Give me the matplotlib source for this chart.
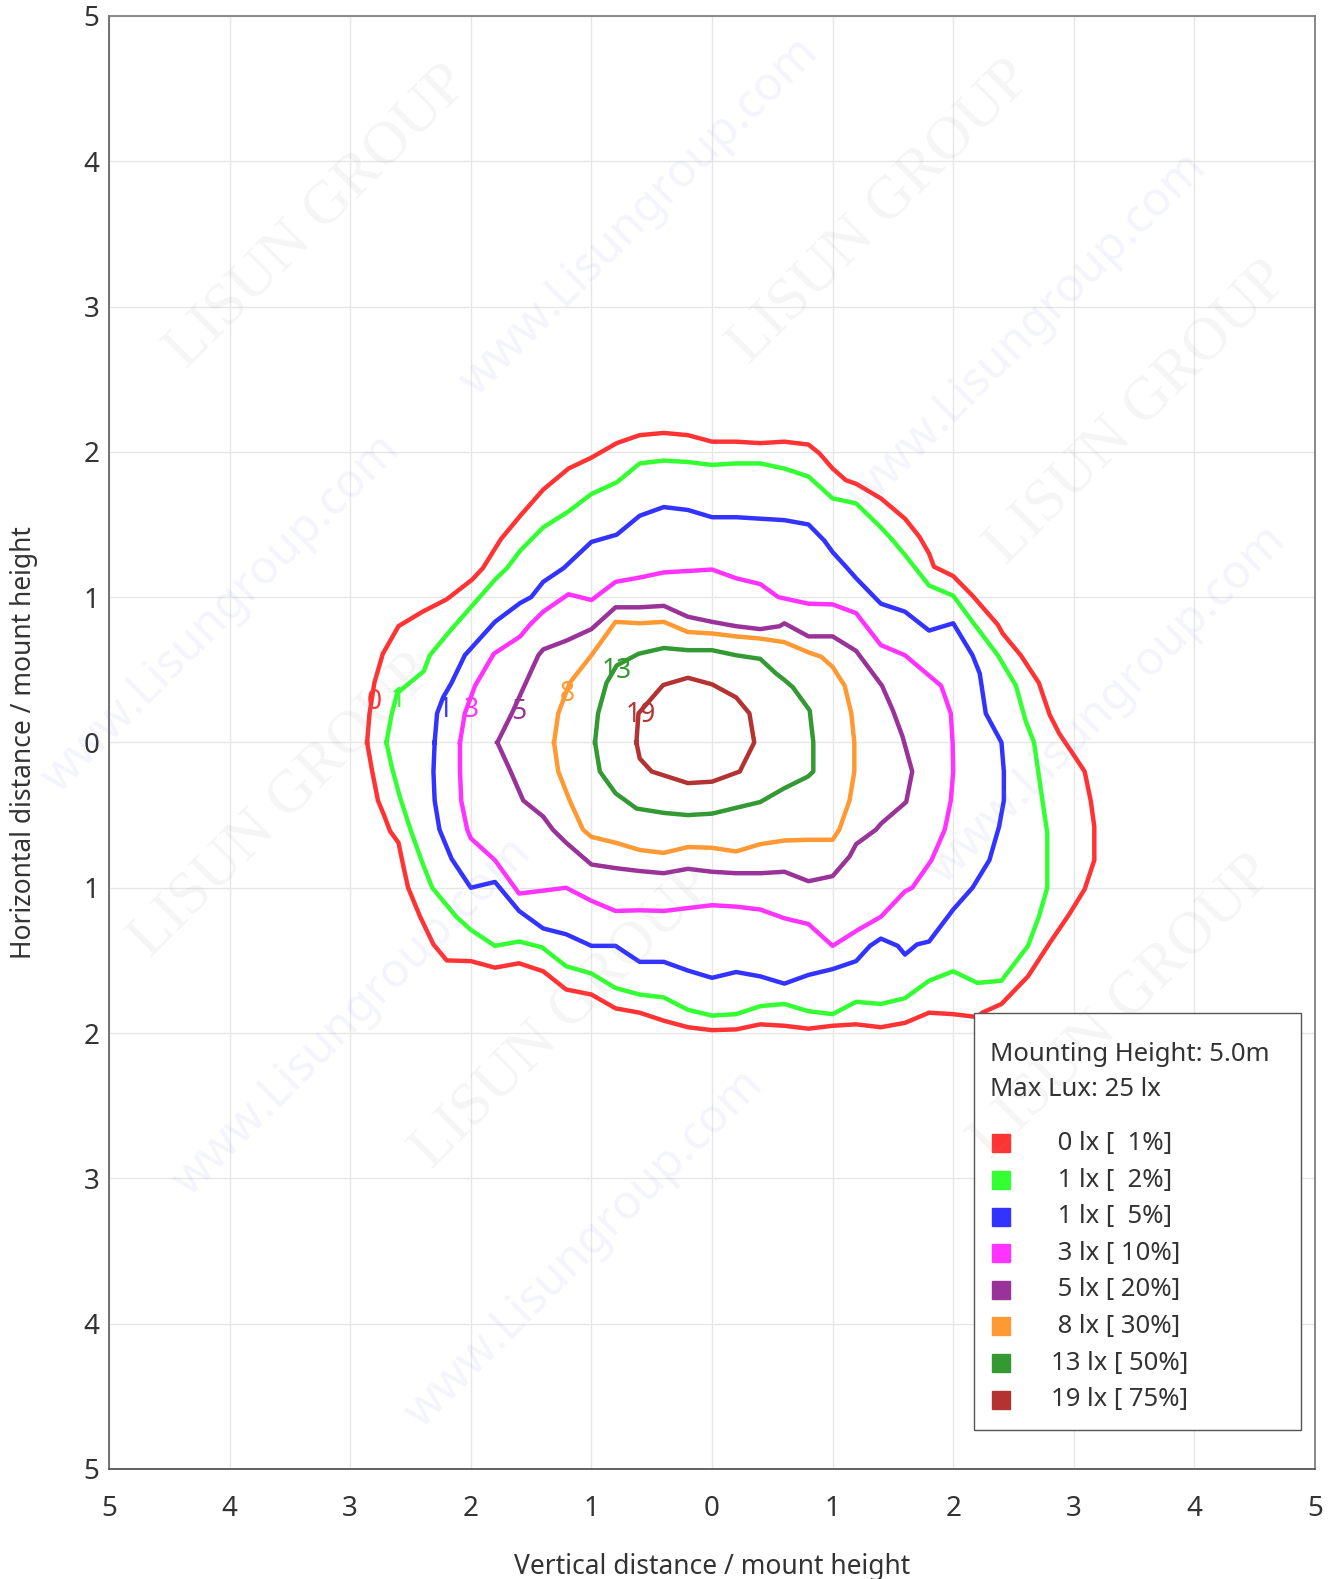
import matplotlib
matplotlib.use("Agg")
import matplotlib.pyplot as plt
from matplotlib.patches import Rectangle
from matplotlib.ticker import FuncFormatter, MultipleLocator

plt.rcParams["font.family"] = ["Noto Sans", "DejaVu Sans"]

# isolux levels
lux_levels = [0, 1, 1, 3, 5, 8, 13, 19]
pct_levels = [1, 2, 5, 10, 20, 30, 50, 75]
line_colors = ["#ff3333", "#33ff33", "#3333ff", "#ff33ff",
               "#993399", "#ff9933", "#339933", "#b33333"]

# contour polylines (distance / mount height)
p1_x = [-2.86, -2.84, -2.80, -2.73, -2.60, -2.40, -2.20, -1.99, -1.90, -1.75, -1.59, -1.40,
        -1.19, -1.0, -0.79, -0.60, -0.40, -0.20, 0.0, 0.2, 0.4, 0.6, 0.8, 0.89, 1.0, 1.11,
        1.195, 1.40, 1.6, 1.72, 1.80, 1.84, 2.0, 2.16, 2.37, 2.41, 2.56, 2.71, 2.80, 2.88,
        2.99, 3.09, 3.14, 3.17, 3.17, 3.09, 2.96, 2.80, 2.62, 2.40, 2.24, 2.2, 2.0, 1.80,
        1.60, 1.40, 1.195, 1.0, 0.8, 0.6, 0.4, 0.2, 0.0, -0.2, -0.4, -0.6, -0.8, -1.0,
        -1.21, -1.40, -1.60, -1.80, -2.0, -2.20, -2.31, -2.42, -2.52, -2.56, -2.60, -2.67,
        -2.72, -2.77, -2.82]
p1_y = [0.0, 0.20, 0.41, 0.61, 0.80, 0.90, 0.985, 1.12, 1.20, 1.40, 1.56, 1.74,
        1.885, 1.96, 2.06, 2.115, 2.13, 2.115, 2.07, 2.07, 2.06, 2.07, 2.05, 1.99, 1.885, 1.805,
        1.78, 1.68, 1.54, 1.415, 1.30, 1.21, 1.145, 1.01, 0.81, 0.75, 0.60, 0.41, 0.19, 0.06,
        -0.075, -0.20, -0.40, -0.58, -0.81, -1.01, -1.185, -1.38, -1.61, -1.80, -1.86, -1.89, -1.87, -1.86,
        -1.93, -1.96, -1.94, -1.95, -1.97, -1.95, -1.94, -1.975, -1.98, -1.96, -1.915, -1.86, -1.83, -1.735,
        -1.70, -1.575, -1.52, -1.55, -1.505, -1.50, -1.39, -1.20, -1.0, -0.85, -0.69, -0.61,
        -0.50, -0.40, -0.19]

p2_x = [-2.70, -2.655, -2.61, -2.39, -2.34, -2.17, -1.99, -1.80, -1.70, -1.59, -1.40, -1.19,
        -1.0, -0.79, -0.60, -0.40, -0.20, 0.0, 0.2, 0.4, 0.6, 0.8, 1.0, 1.195, 1.40, 1.50,
        1.61, 1.80, 2.0, 2.16, 2.37, 2.52, 2.60, 2.67, 2.70, 2.74, 2.78, 2.78, 2.71, 2.62,
        2.40, 2.20, 2.0, 1.80, 1.60, 1.40, 1.195, 1.0, 0.8, 0.6, 0.4, 0.2, 0.0, -0.2, -0.4,
        -0.6, -0.8, -1.0, -1.21, -1.41, -1.6, -1.8, -2.0, -2.12, -2.32, -2.41, -2.50, -2.59,
        -2.655]
p2_y = [0.0, 0.20, 0.34, 0.49, 0.60, 0.77, 0.94, 1.12, 1.20, 1.32, 1.48, 1.59,
        1.71, 1.79, 1.92, 1.94, 1.93, 1.91, 1.92, 1.92, 1.885, 1.83, 1.68, 1.645, 1.48, 1.39,
        1.28, 1.08, 1.01, 0.83, 0.60, 0.39, 0.15, 0.0, -0.17, -0.40, -0.625, -1.0, -1.20, -1.40,
        -1.64, -1.655, -1.575, -1.64, -1.76, -1.80, -1.785, -1.87, -1.85, -1.80, -1.815, -1.87, -1.88, -1.84, -1.755,
        -1.735, -1.69, -1.59, -1.54, -1.41, -1.37, -1.40, -1.29, -1.20, -1.0, -0.81, -0.60, -0.37,
        -0.17]

p5_x = [-2.30, -2.28, -2.23, -2.16, -2.05, -1.80, -1.59, -1.50, -1.40, -1.23, -1.0, -0.79,
        -0.60, -0.40, -0.20, 0.0, 0.2, 0.4, 0.6, 0.8, 0.93, 1.0, 1.11, 1.195, 1.40, 1.60,
        1.80, 2.0, 2.16, 2.22, 2.27, 2.40, 2.42, 2.42, 2.38, 2.30, 2.16, 2.0, 1.80, 1.70,
        1.60, 1.54, 1.40, 1.31, 1.195, 1.0, 0.8, 0.6, 0.4, 0.2, 0.0, -0.2, -0.4, -0.6,
        -0.8, -1.0, -1.21, -1.40, -1.60, -1.80, -2.0, -2.16, -2.26, -2.30, -2.31]
p5_y = [0.0, 0.20, 0.31, 0.41, 0.60, 0.83, 0.96, 1.00, 1.105, 1.20, 1.38, 1.43,
        1.56, 1.62, 1.60, 1.55, 1.55, 1.54, 1.53, 1.50, 1.39, 1.31, 1.21, 1.13, 0.955, 0.90,
        0.77, 0.82, 0.60, 0.475, 0.20, 0.0, -0.20, -0.40, -0.58, -0.81, -1.0, -1.15, -1.37, -1.39,
        -1.46, -1.40, -1.35, -1.40, -1.505, -1.56, -1.60, -1.66, -1.61, -1.58, -1.62, -1.57, -1.51, -1.51,
        -1.40, -1.40, -1.32, -1.28, -1.16, -0.96, -1.0, -0.80, -0.60, -0.40, -0.20]

p10_x = [-2.09, -2.05, -1.965, -1.81, -1.59, -1.51, -1.40, -1.19, -1.0, -0.80, -0.60, -0.40,
         -0.20, 0.0, 0.2, 0.4, 0.55, 0.8, 1.0, 1.195, 1.40, 1.60, 1.80, 1.90, 1.98, 1.995,
         2.0, 1.98, 1.93, 1.82, 1.66, 1.60, 1.40, 1.21, 1.0, 0.8, 0.6, 0.4, 0.2, 0.0,
         -0.2, -0.4, -0.6, -0.8, -1.0, -1.21, -1.40, -1.60, -1.80, -2.0, -2.03, -2.08, -2.09]
p10_y = [0.0, 0.20, 0.39, 0.61, 0.73, 0.81, 0.90, 1.02, 0.98, 1.105, 1.135, 1.17,
         1.18, 1.19, 1.13, 1.09, 1.0, 0.955, 0.95, 0.89, 0.67, 0.60, 0.46, 0.39, 0.20, 0.0,
         -0.20, -0.40, -0.60, -0.81, -1.0, -1.025, -1.20, -1.29, -1.40, -1.25, -1.21, -1.15, -1.13, -1.12,
         -1.14, -1.16, -1.155, -1.16, -1.09, -1.0, -1.02, -1.04, -0.81, -0.66, -0.60, -0.40, -0.19]

p20_x = [-1.78, -1.66, -1.55, -1.44, -1.40, -1.21, -1.0, -0.80, -0.60, -0.40, -0.20, 0.0,
         0.2, 0.4, 0.56, 0.60, 0.8, 1.0, 1.195, 1.41, 1.50, 1.58, 1.66, 1.61, 1.40, 1.36,
         1.195, 1.14, 1.0, 0.8, 0.6, 0.4, 0.2, 0.0, -0.2, -0.4, -0.6, -0.8, -1.0, -1.21,
         -1.32, -1.40, -1.565, -1.67]
p20_y = [0.0, 0.20, 0.40, 0.60, 0.64, 0.70, 0.78, 0.93, 0.93, 0.94, 0.865, 0.83,
         0.80, 0.78, 0.80, 0.82, 0.73, 0.73, 0.63, 0.39, 0.22, 0.04, -0.20, -0.41, -0.56, -0.60,
         -0.70, -0.785, -0.92, -0.955, -0.89, -0.90, -0.90, -0.89, -0.87, -0.90, -0.885, -0.865, -0.84, -0.69,
         -0.60, -0.51, -0.40, -0.20]

p30_x = [-1.31, -1.275, -1.18, -1.0, -0.80, -0.60, -0.40, -0.20, 0.0, 0.2, 0.4, 0.6,
         0.8, 0.905, 1.0, 1.10, 1.155, 1.18, 1.18, 1.14, 1.055, 1.0, 0.8, 0.6, 0.4, 0.2,
         0.0, -0.2, -0.4, -0.6, -0.8, -1.0, -1.07, -1.18, -1.275]
p30_y = [0.0, 0.20, 0.41, 0.60, 0.83, 0.82, 0.83, 0.76, 0.75, 0.73, 0.715, 0.69,
         0.62, 0.59, 0.52, 0.39, 0.20, 0.0, -0.20, -0.40, -0.60, -0.67, -0.67, -0.675, -0.70, -0.75,
         -0.725, -0.72, -0.76, -0.74, -0.69, -0.65, -0.60, -0.40, -0.20]

p50_x = [-0.97, -0.945, -0.875, -0.79, -0.61, -0.40, -0.20, 0.0, 0.2, 0.4, 0.53, 0.60,
         0.67, 0.81, 0.84, 0.84, 0.795, 0.60, 0.40, 0.2, 0.0, -0.2, -0.4, -0.625, -0.80, -0.93]
p50_y = [0.0, 0.20, 0.41, 0.53, 0.61, 0.65, 0.635, 0.635, 0.60, 0.575, 0.475, 0.43,
         0.38, 0.22, 0.0, -0.20, -0.235, -0.315, -0.41, -0.45, -0.49, -0.50, -0.485, -0.455, -0.35, -0.20]

p75_x = [-0.627, -0.61, -0.405, -0.20, 0.0, 0.20, 0.31, 0.35, 0.23, 0.0, -0.20, -0.50, -0.60]
p75_y = [0.0, 0.20, 0.395, 0.445, 0.40, 0.31, 0.20, 0.0, -0.20, -0.27, -0.28, -0.20, -0.11]

# inline level labels
label_x = [-2.80, -2.60, -2.21, -2.0, -1.60, -1.20, -0.79, -0.59]
label_y = [0.28, 0.29, 0.22, 0.22, 0.21, 0.33, 0.49, 0.19]

contours = [(p1_x, p1_y), (p2_x, p2_y), (p5_x, p5_y), (p10_x, p10_y),
            (p20_x, p20_y), (p30_x, p30_y), (p50_x, p50_y), (p75_x, p75_y)]

fig = plt.figure(figsize=(13.33, 15.79), dpi=100)
ax = fig.add_axes([0.0818, 0.0697, 0.9047, 0.9202])

# faint watermarks
for cx, cy in [(315, 215), (875, 210), (1130, 410), (280, 800), (560, 1010), (1115, 1000)]:
    fig.text(cx / 1324, 1 - cy / 1568, "LISUN GROUP", family="Liberation Serif", fontsize=44,
             rotation=45, ha="center", va="center", color="#999999", alpha=0.10, zorder=0)
for cx, cy in [(635, 215), (1020, 330), (220, 610), (350, 1010), (580, 1240), (1100, 700)]:
    fig.text(cx / 1324, 1 - cy / 1568, "www.Lisungroup.com", fontsize=34, rotation=45,
             ha="center", va="center", color="#8080e0", alpha=0.09, zorder=0)

for (xs, ys), col in zip(contours, line_colors):
    ax.plot(xs + xs[:1], ys + ys[:1], color=col, lw=3.2, solid_joinstyle="round", zorder=3)

for lx, ly, lux, col in zip(label_x, label_y, lux_levels, line_colors):
    ax.text(lx, ly, str(lux), color=col, fontsize=19, ha="center", va="center", zorder=4)

ax.set_xlim(-5, 5)
ax.set_ylim(-5, 5)
ax.xaxis.set_major_locator(MultipleLocator(1))
ax.yaxis.set_major_locator(MultipleLocator(1))
absfmt = FuncFormatter(lambda v, p: f"{abs(v):.0f}")
ax.xaxis.set_major_formatter(absfmt)
ax.yaxis.set_major_formatter(absfmt)
ax.grid(True, color="#e6e6e6", lw=1)
ax.set_axisbelow(True)
ax.tick_params(axis="both", length=0, labelsize=20, labelcolor="#333333")
ax.tick_params(axis="x", pad=19)
ax.tick_params(axis="y", pad=7)
for sp in ax.spines.values():
    sp.set_color("#808080")
    sp.set_linewidth(1.3)
ax.spines["bottom"].set_color("#555555")
ax.spines["left"].set_color("#666666")

ax.set_xlabel("Vertical distance / mount height", fontsize=19, color="#333333")
ax.set_ylabel("Horizontal distance / mount height", fontsize=19, color="#333333")
ax.xaxis.set_label_coords(0.5, -0.058)
ax.yaxis.set_label_coords(-0.059, 0.5)

# legend panel
ax.add_patch(Rectangle((0.717, 0.0268), 0.271, 0.287, transform=ax.transAxes,
                       facecolor="white", edgecolor="#555555", lw=1.0, zorder=5))
ax.text(0.7305, 0.2850, "Mounting Height: 5.0m", transform=ax.transAxes, fontsize=18.5,
        ha="left", va="center", color="#333333", zorder=6)
ax.text(0.7305, 0.2610, "Max Lux: 25 lx", transform=ax.transAxes, fontsize=18.5,
        ha="left", va="center", color="#333333", zorder=6)
for i, (lux, pct, col) in enumerate(zip(lux_levels, pct_levels, line_colors)):
    yy = (1469 - (1143.5 + i * 36.6)) / 1453
    ax.plot([0.7394], [yy], marker="s", markersize=13.5, color=col, lw=0,
            transform=ax.transAxes, clip_on=False, zorder=6)
    ax.text(0.781, yy, f"{lux:>2} lx [{pct:>3}%]", transform=ax.transAxes, fontsize=18.5,
            ha="left", va="center", color="#333333", zorder=6)

fig.savefig("out.png", dpi=100)
